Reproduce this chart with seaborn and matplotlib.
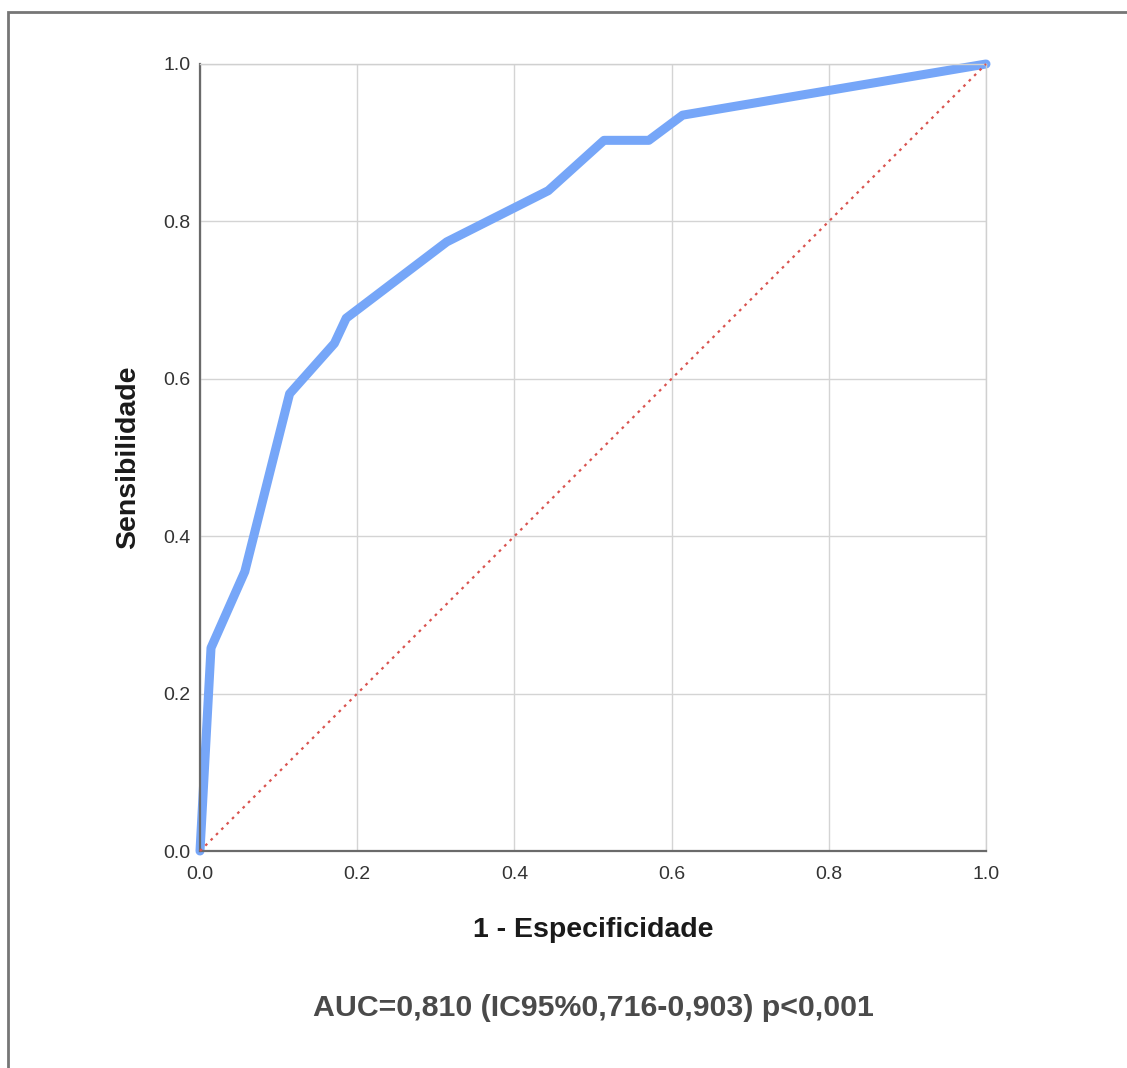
import matplotlib
matplotlib.use("Agg")
import matplotlib.pyplot as plt
import seaborn as sns
import pandas as pd
from matplotlib.patches import Rectangle

# ROC curve coordinates
fpr = [0.0, 0.014, 0.057, 0.114, 0.171, 0.186, 0.314, 0.443, 0.514, 0.571, 0.614, 1.0]
tpr = [0.0, 0.258, 0.355, 0.581, 0.645, 0.677, 0.774, 0.839, 0.903, 0.903, 0.935, 1.0]
ref_line = [0.0, 1.0]
ticks = [0.0, 0.2, 0.4, 0.6, 0.8, 1.0]
tick_labels = ["0.0", "0.2", "0.4", "0.6", "0.8", "1.0"]
x_label = "1 - Especificidade"
y_label = "Sensibilidade"
footer = "AUC=0,810 (IC95%0,716-0,903) p<0,001"

sns.set_style("whitegrid")
plt.rcParams["font.family"] = ["Liberation Sans", "DejaVu Sans"]

roc = pd.DataFrame({"fpr": fpr, "tpr": tpr})
diag = pd.DataFrame({"x": ref_line, "y": ref_line})

fig = plt.figure(figsize=(11.27, 10.68), dpi=100)
ax = fig.add_axes([200 / 1127, 1 - 851 / 1068, 786 / 1127, 787 / 1068])

sns.lineplot(data=diag, x="x", y="y", ax=ax, color="#d9534f", linewidth=1.6,
             linestyle=(0, (1.2, 2.2)), zorder=3)
sns.lineplot(data=roc, x="fpr", y="tpr", ax=ax, sort=False, estimator=None,
             color="#76a6f8", linewidth=6.5, solid_capstyle="round",
             solid_joinstyle="round", zorder=2)
for line in ax.lines:
    line.set_clip_on(False)

ax.set_xlim(0, 1)
ax.set_ylim(0, 1)
ax.set_xticks(ticks)
ax.set_yticks(ticks)
ax.set_xticklabels(tick_labels)
ax.set_yticklabels(tick_labels)
ax.tick_params(axis="both", length=0, labelsize=14, colors="#333333")
ax.tick_params(axis="y", pad=7)
ax.tick_params(axis="x", pad=11)
ax.grid(True, color="#d4d4d4", linewidth=1.0)
ax.set_axisbelow(True)

for side in ("top", "right"):
    ax.spines[side].set_color("#d0d0d0")
    ax.spines[side].set_linewidth(1.0)
for side in ("left", "bottom"):
    ax.spines[side].set_color("#6a6a6a")
    ax.spines[side].set_linewidth(1.6)

ax.set_xlabel(x_label, fontsize=20.5, fontweight="bold", color="#1a1a1a", labelpad=24)
ax.set_ylabel(y_label, fontsize=20.5, fontweight="bold", color="#1a1a1a", labelpad=16)

fig.text(593 / 1127, 1 - 1008 / 1068, footer, ha="center", va="center",
         fontsize=21.8, fontweight="bold", color="#4a4a4a")

# outer frame running off the right and bottom edges
fig.patches.append(Rectangle((7.5 / 1127, -0.1), 1.2, 1 - 12 / 1068 + 0.1,
                             transform=fig.transFigure, fill=False,
                             edgecolor="#767676", linewidth=2.0))

fig.savefig("out.png", dpi=100)
